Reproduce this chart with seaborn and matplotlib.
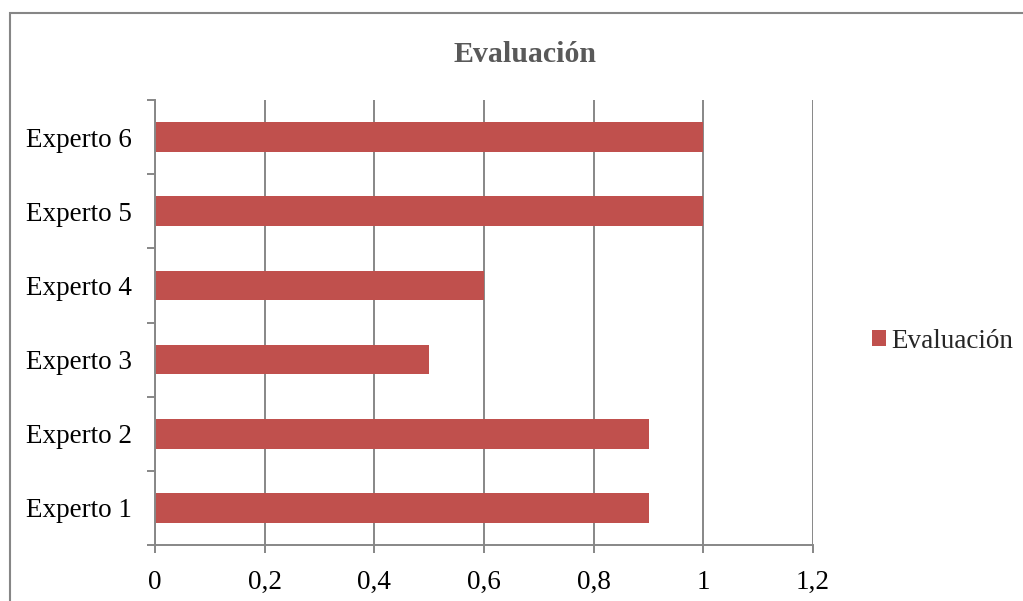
import matplotlib
matplotlib.use("Agg")
import matplotlib.pyplot as plt
import matplotlib.ticker as mticker
from matplotlib.patches import Rectangle
import pandas as pd
import seaborn as sns

expertos = ["Experto 1", "Experto 2", "Experto 3", "Experto 4", "Experto 5", "Experto 6"]
evaluacion = [0.9, 0.9, 0.5, 0.6, 1.0, 1.0]
serie = "Evaluación"
x_ticks = [0, 0.2, 0.4, 0.6, 0.8, 1.0, 1.2]

sns.set_theme(style="white")
plt.rcParams["font.family"] = ["Liberation Serif", "DejaVu Serif"]

df = pd.DataFrame({"experto": expertos, "valor": evaluacion, "serie": serie})

grid_col = "#878787"
fig = plt.figure(figsize=(10.23, 6.01), dpi=100)
ax = fig.add_axes([155 / 1023, 1 - 545 / 601, (813 - 155) / 1023, (545 - 100) / 601])

sns.barplot(data=df, x="valor", y="experto", hue="serie", palette=["#C0504D"],
            order=expertos[::-1], width=0.4, ax=ax, saturation=1, linewidth=0)

ax.set_xlim(0, 1.2)
ax.set_ylim(5.5, -0.5)
ax.set_xticks(x_ticks)
ax.xaxis.set_major_formatter(mticker.FuncFormatter(lambda v, p: f"{v:g}".replace(".", ",")))
ax.set_axisbelow(True)
ax.grid(axis="x", color=grid_col, linewidth=1.4)
ax.grid(axis="y", visible=False)
ax.set_xlabel("")
ax.set_ylabel("")

for s in ["top", "right"]:
    ax.spines[s].set_visible(False)
for s in ["left", "bottom"]:
    ax.spines[s].set_color(grid_col)
    ax.spines[s].set_linewidth(1.4)

ax.set_yticks([i - 0.5 for i in range(7)], minor=True)
ax.tick_params(axis="y", which="major", length=0, labelsize=19.5, pad=16.5, colors="black")
ax.tick_params(axis="y", which="minor", length=6, width=1.4, color=grid_col, left=True)
ax.tick_params(axis="x", which="major", length=6, width=1.4, color=grid_col, bottom=True,
               labelsize=19.5, pad=12, labelcolor="black")

fig.text(525 / 1023, 1 - 54 / 601, "Evaluación", ha="center", va="center",
         fontsize=21.5, fontweight="bold", color="#595959")

handles, labels = ax.get_legend_handles_labels()
ax.legend(handles, labels, loc="center left", bbox_to_anchor=(872 / 1023, 1 - 341 / 601),
          bbox_transform=fig.transFigure, frameon=False, fontsize=19.5,
          handlelength=0.52, handleheight=0.52, handletextpad=0.2, borderpad=0,
          borderaxespad=0)

fig.patches.append(Rectangle((10 / 1023, -0.1), 1.2, 0.1 + 1 - 13 / 601, transform=fig.transFigure,
                             fill=False, edgecolor="#868686", linewidth=1.5, figure=fig))

fig.savefig("out.png", dpi=100)
